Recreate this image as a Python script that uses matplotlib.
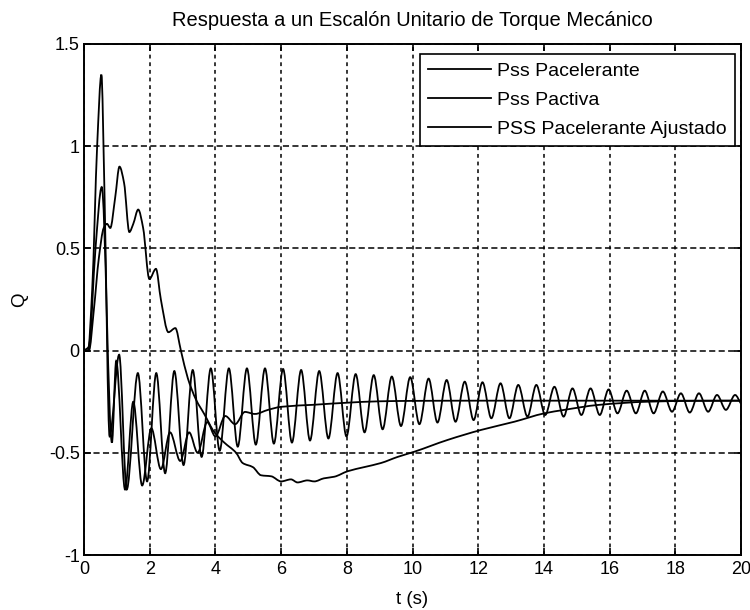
import numpy as np
import matplotlib
matplotlib.use("Agg")
import matplotlib.pyplot as plt
from matplotlib.path import Path
from matplotlib.patches import PathPatch

# Response of the three stabilizer designs (knots of each trace)
pss_acc_t = [0, 0.12, 0.25, 0.40, 0.53, 0.62, 0.78, 1.07, 1.30,
             1.64, 1.92, 2.20, 2.47, 2.75, 3.03, 3.31, 3.58, 3.86, 4.13,
             4.41, 4.68, 4.96, 5.23, 5.51, 5.78, 6.06, 6.33, 6.61, 6.88,
             7.16, 7.44, 7.72, 7.99, 8.27, 8.54, 8.82, 9.09, 9.37, 9.65,
             9.93, 10.21, 10.49, 10.76, 11.04, 11.31, 11.59, 11.86, 12.13,
             12.40, 12.68, 12.95, 13.22, 13.50, 13.77, 14.04, 14.32, 14.60,
             14.87, 15.14, 15.42, 15.70, 15.97, 16.24, 16.52, 16.80, 17.07,
             17.34, 17.62, 17.90, 18.17, 18.44, 18.72, 19.00, 19.27, 19.54,
             19.82, 20.0]
pss_acc_y = [0, 0.0, 0.30, 1.00, 1.35, 0.80, -0.42, -0.02, -0.68,
             -0.11, -0.64, -0.11, -0.60, -0.10, -0.56, -0.095, -0.52, -0.087, -0.49,
             -0.087, -0.47, -0.087, -0.46, -0.087, -0.455, -0.09, -0.45, -0.095, -0.44,
             -0.10, -0.43, -0.11, -0.42, -0.115, -0.40, -0.12, -0.385, -0.127, -0.369,
             -0.13, -0.36, -0.137, -0.352, -0.144, -0.348, -0.152, -0.34, -0.155,
             -0.331, -0.16, -0.331, -0.168, -0.323, -0.168, -0.315, -0.177, -0.323,
             -0.185, -0.315, -0.185, -0.315, -0.19, -0.307, -0.196, -0.307, -0.196,
             -0.307, -0.20, -0.299, -0.209, -0.303, -0.209, -0.299, -0.217, -0.29,
             -0.217, -0.26]

pss_act_t = [0, 0.15, 0.35, 0.54, 0.85, 0.98, 1.25, 1.50, 1.77, 2.05,
             2.34, 2.62, 2.93, 3.20, 3.46, 3.75, 4.00, 4.30, 4.60, 4.90,
             5.20, 5.60, 6.0, 7.0, 8.0, 9.0, 10.0, 12.0, 20.0]
pss_act_y = [0, 0.02, 0.50, 0.80, -0.45, -0.05, -0.68, -0.25, -0.66, -0.38,
             -0.58, -0.40, -0.54, -0.40, -0.50, -0.35, -0.42, -0.32, -0.36, -0.30,
             -0.31, -0.29, -0.275, -0.265, -0.255, -0.248, -0.246, -0.245, -0.245]

pss_adj_t = [0, 0.15, 0.30, 0.45, 0.60, 0.70, 0.80, 0.95, 1.08, 1.22,
             1.38, 1.50, 1.65, 1.80, 1.99, 2.19, 2.34, 2.57, 2.78, 2.95,
             3.16, 3.41, 3.66, 3.97, 4.27, 4.63, 4.83, 5.14, 5.39, 5.70,
             6.00, 6.30, 6.50, 6.80, 7.01, 7.30, 7.62, 8.03, 8.53, 9.04,
             9.55, 10.05, 11.07, 12.09, 13.10, 14.01, 14.62, 15.64, 17.16,
             18.50, 20.0]
pss_adj_y = [0, 0.0, 0.20, 0.45, 0.60, 0.62, 0.60, 0.75, 0.90, 0.82,
             0.58, 0.62, 0.69, 0.60, 0.35, 0.40, 0.25, 0.09, 0.11, 0.0,
             -0.135, -0.24, -0.31, -0.40, -0.45, -0.50, -0.55, -0.57, -0.61, -0.615,
             -0.64, -0.63, -0.645, -0.635, -0.64, -0.625, -0.617, -0.59, -0.57, -0.55,
             -0.52, -0.495, -0.437, -0.388, -0.348, -0.307, -0.29, -0.266, -0.25,
             -0.246, -0.245]

labels = ["Pss Pacelerante", "Pss Pactiva", "PSS Pacelerante Ajustado"]
x_ticks = [0, 2, 4, 6, 8, 10, 12, 14, 16, 18, 20]
y_ticks = [-1, -0.5, 0, 0.5, 1, 1.5]
y_tick_labels = ["-1", "-0.5", "0", "0.5", "1", "1.5"]


def smooth_path(t, y):
    """Piecewise cubic Bezier through the knots, flat at local extrema."""
    t = np.asarray(t, float)
    y = np.asarray(y, float)
    h = np.diff(t)
    d = np.diff(y) / h
    m = np.zeros_like(y)
    for i in range(1, len(y) - 1):
        if d[i - 1] * d[i] > 0:
            w1 = 2 * h[i] + h[i - 1]
            w2 = h[i] + 2 * h[i - 1]
            m[i] = (w1 + w2) / (w1 / d[i - 1] + w2 / d[i])
    m[0] = d[0]
    m[-1] = d[-1]
    verts = [(t[0], y[0])]
    codes = [Path.MOVETO]
    for i in range(len(h)):
        verts += [(t[i] + h[i] / 3, y[i] + m[i] * h[i] / 3),
                  (t[i + 1] - h[i] / 3, y[i + 1] - m[i + 1] * h[i] / 3),
                  (t[i + 1], y[i + 1])]
        codes += [Path.CURVE4] * 3
    return Path(verts, codes)


plt.rcParams['font.family'] = ['Liberation Sans', 'DejaVu Sans']

fig = plt.figure(figsize=(7.5, 6.1), dpi=100)
ax = fig.add_axes([84 / 750, 55 / 610, 657 / 750, 511 / 610])

series = [(pss_acc_t, pss_acc_y), (pss_act_t, pss_act_y), (pss_adj_t, pss_adj_y)]
handles = []
for (t, y), lab in zip(series, labels):
    ax.add_patch(PathPatch(smooth_path(t, y), fill=False, ec='black', lw=1.3,
                           zorder=3))
    h, = ax.plot([], [], color='black', lw=1.3, label=lab)
    handles.append(h)

ax.set_xlim(0, 20)
ax.set_ylim(-1, 1.5)
ax.set_xticks(x_ticks)
ax.set_yticks(y_ticks)
ax.set_yticklabels(y_tick_labels)
ax.tick_params(direction='in', top=True, right=True, length=5, width=1.2,
               labelsize=13, colors='black')
ax.tick_params(axis='y', pad=3)
ax.tick_params(axis='x', pad=4)
for s in ax.spines.values():
    s.set_linewidth(1.4)
    s.set_color('black')

# dashed grid, slightly different dash pattern on each direction
ax.xaxis.grid(True, color='black', linestyle=(0, (2.5, 2.5)), linewidth=1.1)
ax.yaxis.grid(True, color='black', linestyle=(0, (4, 2.2)), linewidth=1.1)
ax.set_axisbelow(True)

ax.set_title("Respuesta a un Escalón Unitario de Torque Mecánico", fontsize=14.5, pad=13)
ax.set_xlabel("t (s)", fontsize=13.5, labelpad=10)
ax.set_ylabel("Q", fontsize=13.5, labelpad=15)

leg = ax.legend(handles=handles, loc='upper right',
                bbox_to_anchor=(735 / 750, (610 - 54) / 610),
                bbox_transform=fig.transFigure, borderaxespad=0,
                fontsize=14, handlelength=3.25, handletextpad=0.3,
                labelspacing=0.58, fancybox=False, framealpha=1,
                edgecolor='black', borderpad=0.42)
leg.get_frame().set_linewidth(1.2)

fig.savefig("out.png", dpi=100, facecolor='white')
